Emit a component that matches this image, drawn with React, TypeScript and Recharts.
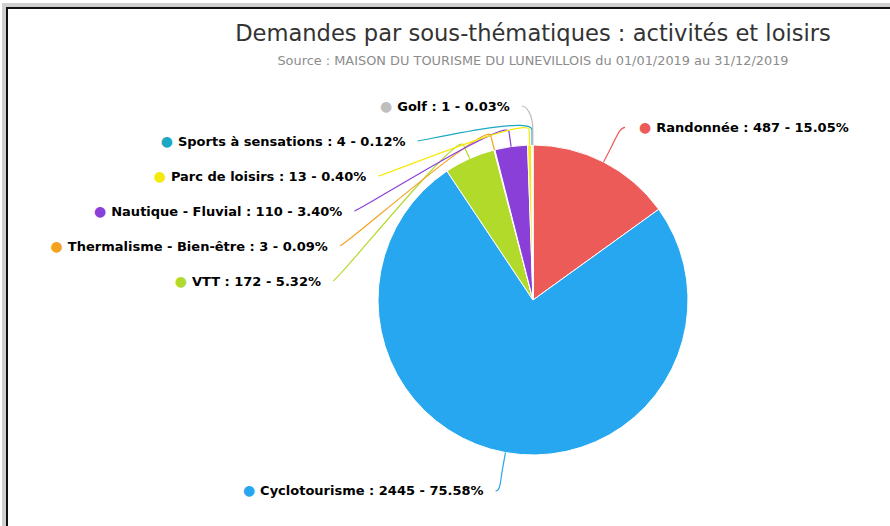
import React from "react";
import { PieChart, Pie, Cell } from "recharts";

// Data for the chart (clockwise from 12 o'clock)
const categories = [
  "Randonnée",
  "Cyclotourisme",
  "VTT",
  "Thermalisme - Bien-être",
  "Nautique - Fluvial",
  "Parc de loisirs",
  "Sports à sensations",
  "Golf",
];
const values = [487, 2445, 172, 3, 110, 13, 4, 1];
const colors = [
  "#EC5B58",
  "#27A7F0",
  "#B2DA2B",
  "#F4A21C",
  "#8A3FD9",
  "#F6E90C",
  "#1CA8C3",
  "#BEBEBE",
];

const total = values.reduce((s, v) => s + v, 0);
const percents = values.map((v) => ((v / total) * 100).toFixed(2));
const data = categories.map((name, i) => ({ name, value: values[i] }));

const RADIUS = 155;
const SPREAD_X = 46; // horizontal reach of the label ellipse beyond the pie
const SPREAD_Y = 39; // vertical reach
const LABEL_GAP = 35; // min vertical distance between two labels on a side

// vertical offset (from cy) of each label, pushed apart so they don't overlap
function labelOffsets(r: number) {
  const b = r + SPREAD_Y;
  let acc = 0;
  const items = values.map((v, i) => {
    const theta = ((acc + v / 2) / total) * 2 * Math.PI;
    acc += v;
    return { i, left: Math.sin(theta) < 0, dy: -b * Math.cos(theta) };
  });
  const out = items.map((it) => it.dy);
  [true, false].forEach((side) => {
    let prev = -Infinity;
    items
      .filter((it) => it.left === side)
      .sort((p, q) => p.dy - q.dy)
      .forEach((it) => {
        const y = Math.max(it.dy, prev + LABEL_GAP);
        out[it.i] = y;
        prev = y;
      });
  });
  return out;
}

const offsets = labelOffsets(RADIUS);

const renderLabel = (props: any) => {
  const { cx, cy, midAngle, outerRadius } = props;
  const index = props.index ?? categories.indexOf(props.name);
  const rad = (midAngle * Math.PI) / 180;
  const ux = Math.cos(rad);
  const uy = -Math.sin(rad);
  const left = ux < 0;
  const a = outerRadius + SPREAD_X;
  const b = outerRadius + SPREAD_Y + 0.3;
  const dy = offsets[index];
  const k = Math.sqrt(Math.max(0, 1 - (dy / b) ** 2));
  const lx = cx + (left ? -1 : 1) * a * k;
  const ly = cy + dy;
  // connector: touching the slice, then a break point a bit further out
  const tx = cx + ux * outerRadius;
  const ty = cy + uy * outerRadius;
  const bx = cx + ux * (outerRadius + 15);
  const by = cy + uy * (outerRadius + 15);
  const d = `M${lx},${ly} C${lx + (left ? 5 : -5)},${ly} ${2 * bx - tx},${2 * by - ty} ${bx},${by} L${tx},${ty}`;
  return (
    <g key={`label-${index}`}>
      <path d={d} stroke={colors[index]} strokeWidth={1.2} fill="none" />
      <text
        x={left ? lx - 12 : lx + 14}
        y={ly}
        dy="0.35em"
        textAnchor={left ? "end" : "start"}
        fontFamily="DejaVu Sans"
        fontSize={13}
        fontWeight="bold"
      >
        <tspan fill={colors[index]} fontSize={14}>
          ●
        </tspan>
        <tspan fill="#000" dx={5}>
          {`${categories[index]} : ${values[index]} - ${percents[index]}%`}
        </tspan>
      </text>
    </g>
  );
};

const App: React.FC = () => {
  return (
    <div
      style={{
        position: "fixed",
        left: 0,
        top: 0,
        width: 890,
        height: 526,
        background: "#fff",
        overflow: "hidden",
      }}
    >
      <div style={{ position: "absolute", left: 0, top: 0 }}>
        <PieChart
          width={890}
          height={526}
          margin={{ top: 0, right: 0, bottom: 0, left: 0 }}
        >
          <Pie
            data={data}
            dataKey="value"
            nameKey="name"
            cx={533}
            cy={300}
            outerRadius={RADIUS}
            startAngle={90}
            endAngle={-270}
            stroke="#fff"
            strokeWidth={1}
            label={renderLabel}
            labelLine={false}
            isAnimationActive={false}
          >
            {data.map((entry, index) => (
              <Cell key={`cell-${index}`} fill={colors[index]} />
            ))}
          </Pie>
        </PieChart>
      </div>

      {/* title, subtitle and the frame of the screenshot */}
      <svg
        width={890}
        height={526}
        style={{ position: "absolute", left: 0, top: 0, zIndex: 5, pointerEvents: "none" }}
      >
        <rect x={2} y={3} width={888} height={4} fill="#cfcfcf" />
        <rect x={2} y={3} width={4} height={523} fill="#cfcfcf" />
        <rect x={6} y={7} width={884} height={2} fill="#111" />
        <rect x={6} y={7} width={2} height={519} fill="#111" />
        <text
          x={533}
          y={41}
          textAnchor="middle"
          fontFamily="DejaVu Sans"
          fontSize={22.6}
          fill="#333"
        >
          Demandes par sous-thématiques : activités et loisirs
        </text>
        <text
          x={533}
          y={65}
          textAnchor="middle"
          fontFamily="DejaVu Sans"
          fontSize={12.9}
          fill="#8c8c8c"
        >
          Source : MAISON DU TOURISME DU LUNEVILLOIS du 01/01/2019 au 31/12/2019
        </text>
      </svg>
    </div>
  );
};

export default App;
